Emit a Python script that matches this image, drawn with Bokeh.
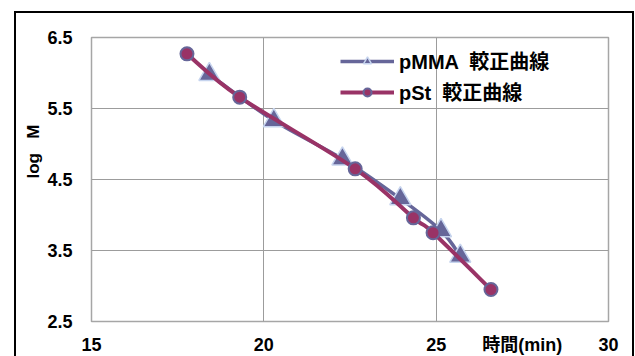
import numpy as np
from bokeh.plotting import figure
from bokeh.models import (Range1d, FixedTicker, Legend, LegendItem, Title,
                          ColumnDataSource)
from bokeh.embed import file_html
from bokeh.resources import INLINE

# Calibration data: elution time (min) vs log M
pmma_time = [18.42, 20.29, 22.28, 23.96, 25.14, 25.70]
pmma_logm = [5.98, 5.33, 4.79, 4.23, 3.78, 3.42]
pst_time = [17.77, 19.30, 22.65, 24.34, 24.91, 26.59]
pst_logm = [6.27, 5.66, 4.65, 3.96, 3.75, 2.95]

x_ticks = [15, 20, 25, 30]
y_ticks = [2.5, 3.5, 4.5, 5.5, 6.5]

pmma_label = "pMMA  較正曲線"
pst_label = "pSt  較正曲線"
x_title = "時間(min)"
x_title_pos = 27.5          # the x title sits in the tick-label row
y_title = "log\u00a0\u00a0\u00a0M"

FONT = "Liberation Sans, Noto Sans CJK JP"
PMMA_COLOR = "#666699"
PMMA_EDGE = "#c6d4ee"
PST_COLOR = "#993366"


def smooth_segments(xs, ys):
    """Cubic Bezier segments through the points (Excel-style smoothed line)."""
    x = np.asarray(xs, float)
    y = np.asarray(ys, float)
    xp = np.concatenate([[x[0]], x, [x[-1]]])
    yp = np.concatenate([[y[0]], y, [y[-1]]])
    d = dict(x0=[], y0=[], x1=[], y1=[], cx0=[], cy0=[], cx1=[], cy1=[])
    for i in range(len(x) - 1):
        p0x, p0y = xp[i], yp[i]
        p1x, p1y = xp[i + 1], yp[i + 1]
        p2x, p2y = xp[i + 2], yp[i + 2]
        p3x, p3y = xp[i + 3], yp[i + 3]
        d["x0"].append(p1x); d["y0"].append(p1y)
        d["x1"].append(p2x); d["y1"].append(p2y)
        d["cx0"].append(p1x + (p2x - p0x) / 6); d["cy0"].append(p1y + (p2y - p0y) / 6)
        d["cx1"].append(p2x - (p3x - p1x) / 6); d["cy1"].append(p2y - (p3y - p1y) / 6)
    return ColumnDataSource(d)


# The figure sits inside a bordered chart area
p = figure(width=616, height=343, frame_width=517, frame_height=284,
           x_range=Range1d(15, 30), y_range=Range1d(2.5, 6.5),
           output_backend="svg", toolbar_location=None,
           min_border_left=75, min_border_right=24,
           min_border_top=24, min_border_bottom=35,
           margin=(11, 0, 0, 14),
           styles={"border-left": "2px solid #000", "border-top": "2px solid #000",
                   "border-right": "2px solid #000"})

p.background_fill_color = "white"
p.border_fill_color = "white"
p.outline_line_color = "#a6a6a6"
p.outline_line_width = 1.5

p.xaxis.ticker = FixedTicker(ticks=x_ticks + [x_title_pos])
p.xaxis.major_label_overrides = {x_title_pos: x_title}
p.yaxis.ticker = FixedTicker(ticks=y_ticks)
for ax in (p.xaxis, p.yaxis):
    ax.axis_line_color = None
    ax.major_tick_line_color = None
    ax.minor_tick_line_color = None
    ax.major_label_text_font = FONT
    ax.major_label_text_font_style = "bold"
    ax.major_label_text_font_size = "18px"
    ax.major_label_text_color = "black"
p.xaxis.major_label_standoff = 7
p.yaxis.major_label_standoff = 13

p.xgrid.ticker = FixedTicker(ticks=x_ticks)
p.ygrid.ticker = FixedTicker(ticks=y_ticks)
for g in (p.xgrid, p.ygrid):
    g.grid_line_color = "#9c9c9c"
    g.grid_line_width = 1

# pMMA series
pmma_line = p.bezier(x0="x0", y0="y0", x1="x1", y1="y1", cx0="cx0", cy0="cy0",
                     cx1="cx1", cy1="cy1", source=smooth_segments(pmma_time, pmma_logm),
                     line_color=PMMA_COLOR, line_width=3.5)
pmma_pts = p.scatter(pmma_time, pmma_logm, marker="triangle", size=21,
                     fill_color=PMMA_COLOR, line_color=PMMA_EDGE, line_width=1.5)

# pSt series
pst_line = p.bezier(x0="x0", y0="y0", x1="x1", y1="y1", cx0="cx0", cy0="cy0",
                    cx1="cx1", cy1="cy1", source=smooth_segments(pst_time, pst_logm),
                    line_color=PST_COLOR, line_width=4)
pst_pts = p.scatter(pst_time, pst_logm, marker="circle", size=13,
                    fill_color=PST_COLOR, line_color=PMMA_COLOR, line_width=2)

legend = Legend(items=[LegendItem(label=pmma_label, renderers=[pmma_line, pmma_pts]),
                       LegendItem(label=pst_label, renderers=[pst_line, pst_pts])],
                location=(249, 215), padding=0, margin=0, spacing=2,
                glyph_width=54, glyph_height=20, label_height=20,
                label_standoff=5,
                background_fill_alpha=0, border_line_alpha=0,
                label_text_font=FONT, label_text_font_style="bold",
                label_text_font_size="20px", label_text_color="black")
p.add_layout(legend)

p.add_layout(Title(text=y_title, align="left", offset=143, standoff=4,
                   text_font=FONT, text_font_style="bold",
                   text_font_size="17px", text_color="black"), "left")

open("out.html", "w").write(file_html(p, INLINE))
